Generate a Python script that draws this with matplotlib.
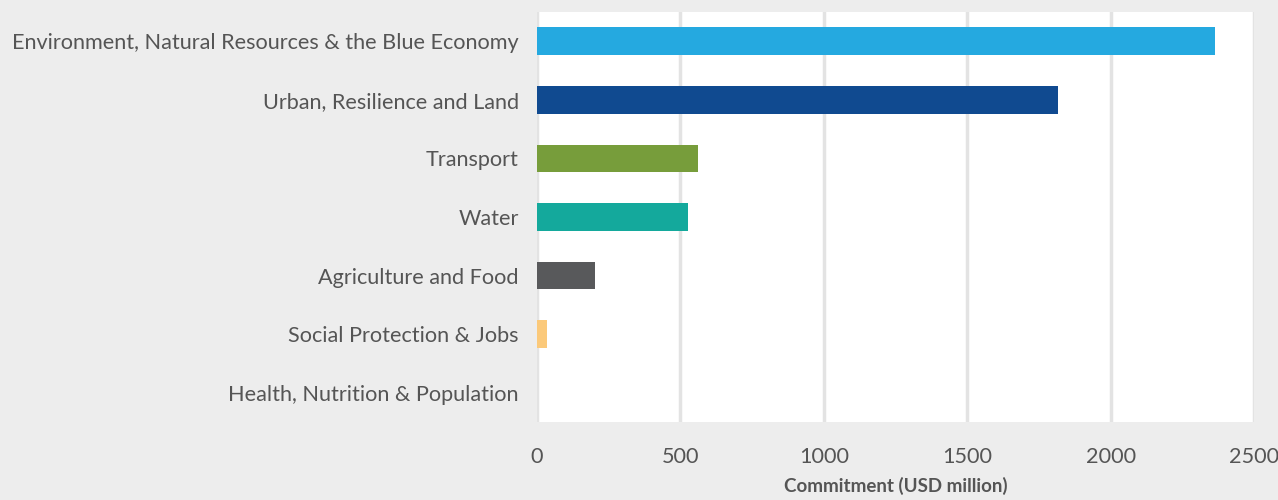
import matplotlib.pyplot as plt

# dados
setores = ["Environment, Natural Resources & the Blue Economy",
           "Urban, Resilience and Land",
           "Transport",
           "Water",
           "Agriculture and Food",
           "Social Protection & Jobs",
           "Health, Nutrition & Population"]
compromisso = [2365, 1815, 562, 527, 203, 35, 0]
cores = ["#25a9e0", "#104a90", "#779d3b", "#14a99c", "#58595b", "#fbc97a", "#d9d9d9"]
xticks = [0, 500, 1000, 1500, 2000, 2500]

plt.rcParams['font.family'] = ['Lato', 'DejaVu Sans']

fig = plt.figure(figsize=(12.78, 5), dpi=100)
fig.patch.set_facecolor("#ededed")
ax = fig.add_axes([0.4202, 0.156, 0.5610, 0.820])
ax.set_facecolor("white")

y = list(range(len(setores)))
ax.barh(y, compromisso, height=0.475, color=cores, zorder=3)

ax.set_xlim(0, 2500)
ax.set_ylim(len(setores) - 0.5, -0.5)
ax.set_yticks(y)
ax.set_yticklabels(setores, fontsize=15.6, color="#555555")
ax.set_xticks(xticks)
ax.set_xticklabels([str(v) for v in xticks], fontsize=15.6, color="#555555")
ax.tick_params(axis="y", length=0, pad=13)
ax.tick_params(axis="x", length=0, pad=18)

ax.grid(axis="x", color="#e3e3e3", linewidth=2.5, zorder=0)
for s in ax.spines.values():
    s.set_visible(False)

ax.set_xlabel("Commitment (USD million)", fontsize=13.5, fontweight="bold",
              color="#555555", labelpad=7)

fig.savefig("out.png", dpi=100, facecolor=fig.get_facecolor())
